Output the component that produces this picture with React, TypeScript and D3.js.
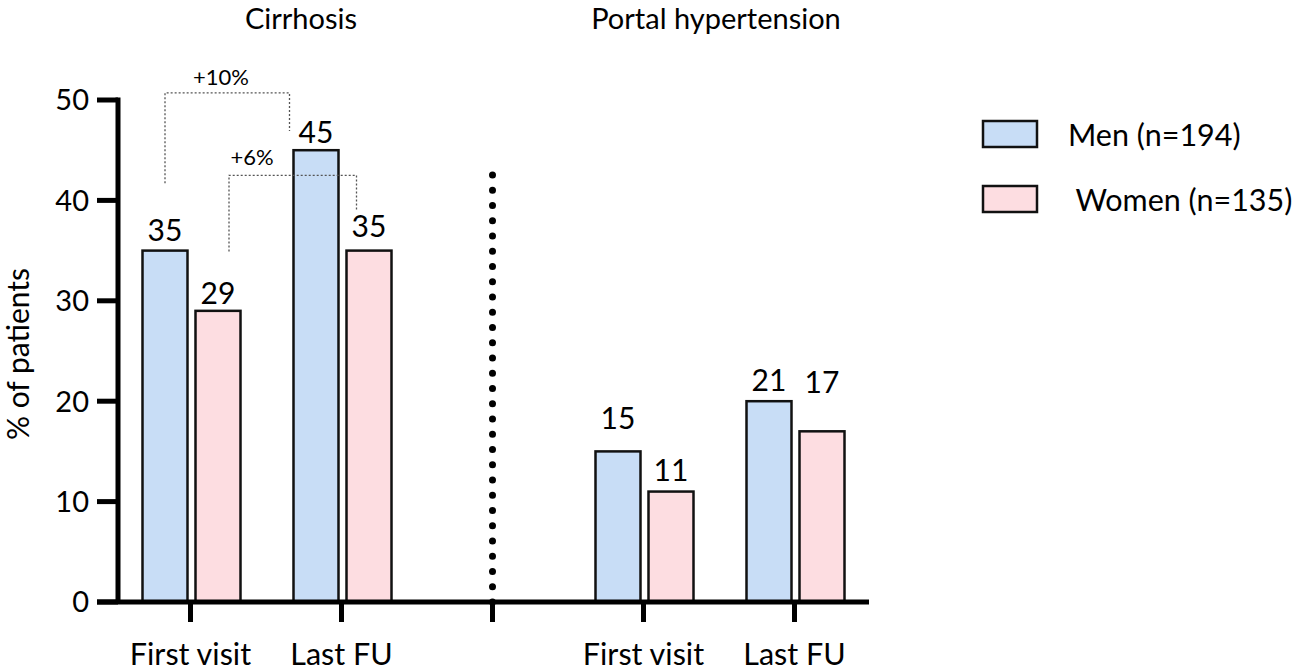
import * as d3 from 'd3';

// categories
const panels = ['Cirrhosis', 'Portal hypertension'];
const timepoints = ['First visit', 'Last FU'];
const sexes = ['Men', 'Women'];
const legendLabels = ['Men (n=194)', ' Women (n=135)'];

// bar heights as drawn (Cirrhosis FV, Cirrhosis LFU, PH FV, PH LFU)
const menValues = [35, 45, 15, 20];
const womenValues = [29, 35, 11, 17];
// printed labels
const menLabels = ['35', '45', '15', '21'];
const womenLabels = ['29', '35', '11', '17'];

const yTicks = [0, 10, 20, 30, 40, 50];
const bracketTexts = ['+10%', '+6%'];
const bracketSex = ['Men', 'Women'];

const FONT = 'Lato, "Open Sans", sans-serif';
const colors: Record<string, string> = { Men: '#c8ddf6', Women: '#fddde1' };

export default function App() {
  const width = 1300;
  const height = 672;

  // slots: panel0 FV, panel0 LFU, separator, panel1 FV, panel1 LFU
  const slots = ['0-0', '0-1', 'sep', '1-0', '1-1'];
  const x = d3.scaleBand<string>().domain(slots).range([115, 870]).padding(0);
  const cx = (s: string) => (x(s) ?? 0) + x.bandwidth() / 2;
  const sub = d3.scaleBand<string>().domain(sexes).range([-48, 50]).paddingInner(0.151);
  const y = d3.scaleLinear().domain([0, 50]).range([602, 100]);

  const barSlots = ['0-0', '0-1', '1-0', '1-1'];
  const bars = barSlots.flatMap((s, i) => [
    { slot: s, sex: 'Men', value: menValues[i], label: menLabels[i] },
    { slot: s, sex: 'Women', value: womenValues[i], label: womenLabels[i] },
  ]);
  // hand-placed label lifts above bar tops (as in the original figure)
  const lifts = [10, 7, 7, 14, 22, 11, 10, 38];

  const barX = (slot: string, sex: string) => cx(slot) + (sub(sex) ?? 0);
  const bw = sub.bandwidth();

  // brackets comparing First visit vs Last FU for cirrhosis
  const brackets = bracketTexts.map((t, i) => {
    const sex = bracketSex[i];
    const x1 = i === 0 ? barX('0-0', sex) + bw / 2 : barX('0-0', sex) + bw / 2 + 11;
    const x2 = i === 0 ? barX('0-1', sex) - 4 : barX('0-1', sex) + 10;
    const level = i === 0 ? y(50.7) : y(42.5);
    const b1 = i === 0 ? y(41.7) : y(34.9);
    const b2 = i === 0 ? y(46.9) : y(38.9);
    return { text: t, x1, x2, level, b1, b2 };
  });

  const sepX = cx('sep');

  return (
    <svg width={width} height={height} style={{ position: 'absolute', left: 0, top: 0, background: '#fff' }} fontFamily={FONT}>
      {/* panel titles */}
      {panels.map((p, i) => (
        <text key={p} x={i === 0 ? 301 : 716} y={29} textAnchor="middle" fontSize={29} fill="#000">
          {p}
        </text>
      ))}

      {/* bars */}
      {bars.map((b, i) => (
        <g key={i}>
          <rect
            x={barX(b.slot, b.sex)}
            y={y(b.value)}
            width={bw}
            height={y(0) - y(b.value)}
            fill={colors[b.sex]}
            stroke="#111"
            strokeWidth={2.5}
          />
          <text
            x={barX(b.slot, b.sex) + bw / 2}
            y={y(b.value) - lifts[i]}
            textAnchor="middle"
            fontSize={30}
            fill="#000"
          >
            {b.label}
          </text>
        </g>
      ))}

      {/* brackets */}
      {brackets.map((b) => (
        <g key={b.text}>
          <path
            d={`M${b.x1},${b.b1}V${b.level}H${b.x2}V${b.b2}`}
            fill="none"
            stroke="#555"
            strokeWidth={1.3}
            strokeDasharray="2 2"
          />
          <text x={b.text === '+10%' ? 221 : 252} y={b.level - 8 - (b.text === '+10%' ? 0 : 2)} textAnchor="middle" fontSize={22} fill="#000">
            {b.text}
          </text>
        </g>
      ))}

      {/* separator */}
      <line
        x1={sepX}
        x2={sepX}
        y1={y(0)}
        y2={173}
        stroke="#000"
        strokeWidth={7}
        strokeLinecap="round"
        strokeDasharray="0 15.25"
      />

      {/* y axis */}
      <line x1={118} x2={118} y1={y(50) - 2.5} y2={y(0)} stroke="#000" strokeWidth={5} />
      {yTicks.map((t) => (
        <g key={t}>
          <line x1={97} x2={118} y1={y(t)} y2={y(t)} stroke="#000" strokeWidth={5} />
          <text x={89} y={y(t)} dy="0.36em" textAnchor="end" fontSize={29} fill="#000">
            {t}
          </text>
        </g>
      ))}
      <text
        transform={`translate(29,354) rotate(-90)`}
        textAnchor="middle"
        fontSize={30}
        fill="#000"
      >
        % of patients
      </text>

      {/* x axis */}
      <line x1={97} x2={869} y1={y(0)} y2={y(0)} stroke="#000" strokeWidth={5} />
      {slots.map((s) => (
        <line key={s} x1={cx(s)} x2={cx(s)} y1={y(0)} y2={y(0) + 20} stroke="#000" strokeWidth={5} />
      ))}
      {barSlots.map((s) => (
        <text key={s} x={cx(s)} y={665} textAnchor="middle" fontSize={30.5} fill="#000">
          {timepoints[Number(s.split('-')[1])]}
        </text>
      ))}

      {/* legend */}
      {sexes.map((s, i) => (
        <g key={s}>
          <rect x={983} y={121 + i * 65} width={54} height={26} fill={colors[s]} stroke="#111" strokeWidth={2.5} />
          <text x={1068} y={146 + i * 65} fontSize={30.5} fill="#000" style={{ whiteSpace: 'pre' }}>
            {legendLabels[i]}
          </text>
        </g>
      ))}
    </svg>
  );
}
